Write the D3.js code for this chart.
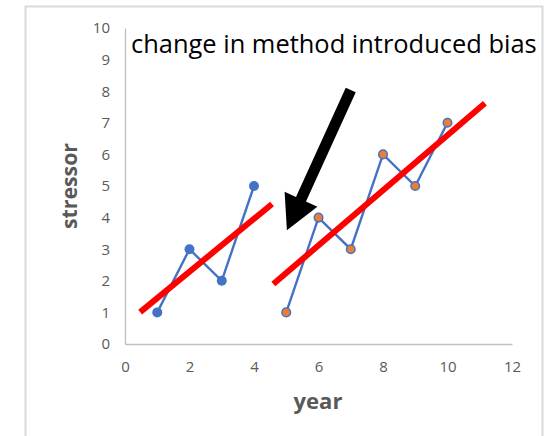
<!DOCTYPE html>
<html>
<head>
<meta charset="utf-8">
<script src="https://cdn.jsdelivr.net/npm/d3@7"></script>
<style>
  html, body { margin: 0; padding: 0; background: #fff; }
  svg { display: block; }
</style>
</head>
<body>
<svg id="chart" width="547" height="436"></svg>
<script>
// Stressor readings before the method change (years 1-4)
const yearsBefore = [1, 2, 3, 4];
const stressBefore = [1, 3, 2, 5];
// Stressor readings after the method change (years 5-10)
const yearsAfter = [5, 6, 7, 8, 9, 10];
const stressAfter = [1, 4, 3, 6, 5, 7];
// Hand-drawn trend lines, as [x, y] endpoints in data units
const trendBefore = [[0.47, 1.01], [4.56, 4.43]];
const trendAfter = [[4.6, 1.9], [11.16, 7.62]];
// Annotation arrow: tail and tip in data units
const arrowFrom = [7.0, 8.04];
const arrowTo = [5.02, 3.6];
const xTicks = [0, 2, 4, 6, 8, 10, 12];
const yTicks = [0, 1, 2, 3, 4, 5, 6, 7, 8, 9, 10];
const titleText = "change in method introduced bias";

const svg = d3.select("#chart");
const x = d3.scaleLinear().domain([0, 12]).range([125, 512]);
const y = d3.scaleLinear().domain([0, 10]).range([344, 28]);

// Chart frame
svg.append("path")
  .attr("d", "M25.5,440 V6.5 H542.5 V440")
  .attr("fill", "none")
  .attr("stroke", "#d9d9d9")
  .attr("stroke-width", 2);

const tickColor = "#595959";
const axisColor = "#bfbfbf";
const font = "'Open Sans', 'Noto Sans', sans-serif";

// Scale a text element so its rendered width matches a target width
function fitWidth(sel, size, target) {
  sel.attr("font-size", size);
  const w = sel.node().getComputedTextLength();
  sel.attr("font-size", size * target / w);
  return sel;
}

// Y axis
const yAxis = svg.append("g")
  .attr("transform", `translate(${x(0)},0)`)
  .call(d3.axisLeft(y).tickValues(yTicks).tickSize(0).tickPadding(15).tickFormat(d3.format("d")));
yAxis.select(".domain").attr("stroke", axisColor).attr("stroke-width", 1.3);
yAxis.selectAll("text").attr("fill", tickColor).attr("font-size", 15).attr("font-family", font);

// X axis
const xAxis = svg.append("g")
  .attr("transform", `translate(0,${y(0)})`)
  .call(d3.axisBottom(x).tickValues(xTicks).tickSize(0).tickPadding(17).tickFormat(d3.format("d")));
xAxis.select(".domain").attr("stroke", axisColor).attr("stroke-width", 1.3);
xAxis.selectAll("text").attr("fill", tickColor).attr("font-size", 15).attr("font-family", font);

// Axis titles
const yTitle = svg.append("text")
  .attr("transform", `translate(77,${(y(0) + y(10)) / 2}) rotate(-90)`)
  .attr("text-anchor", "middle")
  .attr("fill", tickColor)
  .attr("font-family", font)
  .attr("font-weight", "bold")
  .text("stressor");
fitWidth(yTitle, 18, 86);

const xTitle = svg.append("text")
  .attr("x", 318)
  .attr("y", 409)
  .attr("text-anchor", "middle")
  .attr("fill", tickColor)
  .attr("font-family", font)
  .attr("font-weight", "bold")
  .text("year");
fitWidth(xTitle, 18, 49);

// Series lines
const line = d3.line().x(d => x(d[0])).y(d => y(d[1]));
const before = yearsBefore.map((v, i) => [v, stressBefore[i]]);
const after = yearsAfter.map((v, i) => [v, stressAfter[i]]);

[before, after].forEach(pts => {
  svg.append("path")
    .datum(pts)
    .attr("d", line)
    .attr("fill", "none")
    .attr("stroke", "#4472c4")
    .attr("stroke-width", 2.4);
});

svg.selectAll("circle.before")
  .data(before).enter().append("circle")
  .attr("class", "before")
  .attr("cx", d => x(d[0])).attr("cy", d => y(d[1]))
  .attr("r", 5).attr("fill", "#4472c4");

svg.selectAll("circle.after")
  .data(after).enter().append("circle")
  .attr("class", "after")
  .attr("cx", d => x(d[0])).attr("cy", d => y(d[1]))
  .attr("r", 4.3).attr("fill", "#ed7d31")
  .attr("stroke", "#4472c4").attr("stroke-width", 1.5);

// Trend lines
[trendBefore, trendAfter].forEach(seg => {
  svg.append("path")
    .datum(seg)
    .attr("d", line)
    .attr("stroke", "#ff0000")
    .attr("stroke-width", 6)
    .attr("fill", "none");
});

// Arrow pointing at the break between methods
(function drawArrow() {
  const x0 = x(arrowFrom[0]), y0 = y(arrowFrom[1]);
  const x1 = x(arrowTo[0]), y1 = y(arrowTo[1]);
  const len = Math.hypot(x1 - x0, y1 - y0);
  const ux = (x1 - x0) / len, uy = (y1 - y0) / len;
  const px = -uy, py = ux;
  const shaftW = 11, headW = 36, headL = 34;
  const bx = x1 - ux * headL, by = y1 - uy * headL;
  const pts = [
    [x0 + px * shaftW / 2, y0 + py * shaftW / 2],
    [bx + px * shaftW / 2, by + py * shaftW / 2],
    [bx + px * headW / 2, by + py * headW / 2],
    [x1, y1],
    [bx - px * headW / 2, by - py * headW / 2],
    [bx - px * shaftW / 2, by - py * shaftW / 2],
    [x0 - px * shaftW / 2, y0 - py * shaftW / 2]
  ];
  svg.append("polygon")
    .attr("points", pts.map(p => p.join(",")).join(" "))
    .attr("fill", "#000");
})();

// Annotation title
const t = svg.append("text")
  .attr("x", 131)
  .attr("y", 53)
  .attr("fill", "#000")
  .attr("font-family", font)
  .text(titleText);
fitWidth(t, 22, 406);
</script>
</body>
</html>
